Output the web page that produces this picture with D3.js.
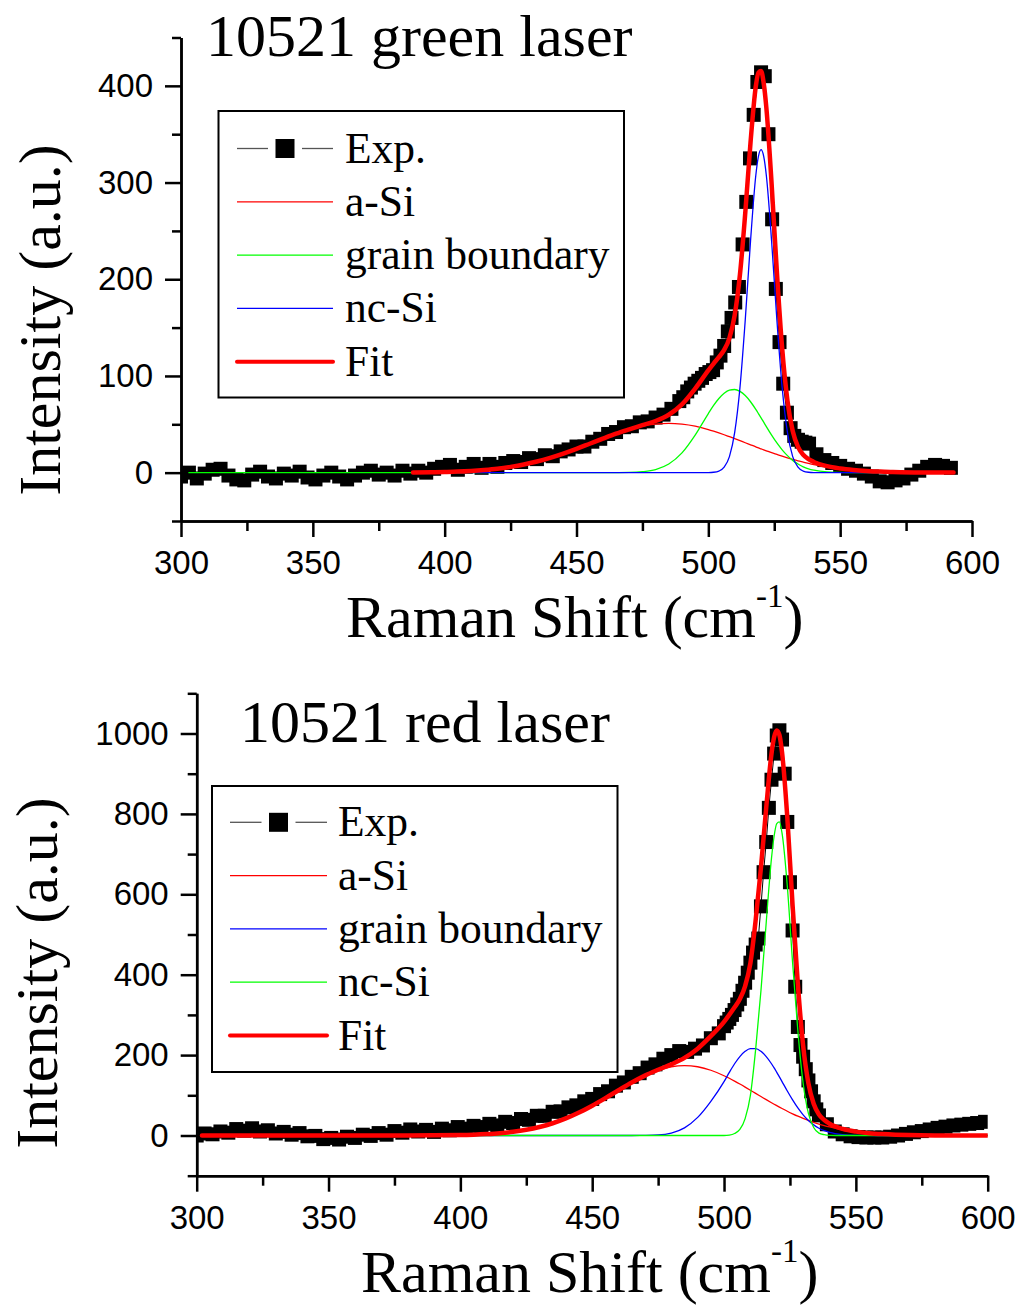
<!DOCTYPE html>
<html>
<head>
<meta charset="utf-8">
<script src="https://cdn.jsdelivr.net/npm/d3@7"></script>
<style>
  body { margin: 0; background: #fff; }
  svg { display: block; }
  .axis path, .axis line { stroke: #000; stroke-width: 2.5; }
  .axis text { font-family: "Liberation Sans", Arial, sans-serif; font-size: 33px; fill: #000; }
  .serif { font-family: "Liberation Serif", "Times New Roman", serif; fill: #000; }
</style>
</head>
<body>
<script>
// ---- shared ticks / labels
const xTicks = [300, 350, 400, 450, 500, 550, 600];
const xMinor = [325, 375, 425, 475, 525, 575];
const yTicksGreen = [0, 100, 200, 300, 400];
const yMinorGreen = [-50, 50, 150, 250, 350, 450];
const yTicksRed = [0, 200, 400, 600, 800, 1000];
const yMinorRed = [-100, 100, 300, 500, 700, 900, 1100];
const legendNames = ["Exp.", "a-Si", "grain boundary", "nc-Si", "Fit"];

// ---- 10521 green laser : measured spectrum
const greenExpX = [300, 303, 306, 309, 312, 315, 318, 321, 324, 327, 330, 333, 336, 339, 342, 345, 348, 351, 354, 357,
  360, 363, 366, 369, 372, 375, 378, 381, 384, 387, 390, 393, 396, 399, 402, 405, 408, 411, 414, 417,
  420, 423, 426, 429, 432, 435, 438, 441, 444, 447, 450, 453, 456, 459, 462, 465, 468, 471, 474, 477,
  480, 483, 486, 489,
  490.5, 492, 493.4, 494.8, 496.2, 497.6, 499, 500.4, 501.8, 503.2, 504.6, 506, 507.4, 508.8, 510.2, 511.6, 513, 514.4,
  515.8, 517.2, 518.6, 520, 521.4, 522.8, 524.2, 525.6, 527, 528.4, 529.8, 531.2, 532.6, 534, 535.4, 536.8, 538.2,
  541, 544, 547, 550, 553, 556, 559, 562, 565, 568, 571, 574, 577, 580, 583, 586, 589, 592];
const greenExpY = [-4, 0, -6, -1, 3, 4, -3, -7, -8, -2, 1, -4, -6, -1, -3, 1, -5, -7, -3, 0,
  -4, -7, -3, 0, 2, -2, 0, -3, 2, -1, 2, 0, 4, 6, 8, 3, 6, 9, 5, 9,
  6, 10, 12, 11, 15, 14, 18, 17, 22, 24, 27, 27, 32, 35, 40, 42, 47, 48, 52, 53,
  57, 60, 66, 74,
  78, 84, 88, 92, 95, 98, 102, 104, 106, 114, 121, 131, 146, 160, 176, 192, 236, 280,
  325, 370, 404, 414, 410, 350, 262, 190, 135, 92, 62, 46, 38, 34, 32, 31, 30,
  19, 13, 10, 7, 4, 2, -1, -4, -9, -10, -8, -6, -2, 2, 6, 8, 7, 5];

// ---- 10521 green laser : fitted components
const greenCompX = [303, 350, 388, 395, 400, 405, 410, 415, 420, 425, 430, 435, 440, 445, 450, 455, 460, 465, 470, 475,
  480, 485, 490, 495, 500, 502, 504, 506, 508, 510, 512, 514, 516, 518, 519, 520, 521, 522, 524, 526,
  528, 530, 532, 534, 536, 538, 540, 545, 550, 555, 560, 565, 570, 580, 593];
const greenASi = [null, null, 0.2, 0.4, 0.7, 1.1, 1.8, 2.8, 4.1, 6.0, 8.4, 11.5, 15.3, 19.7, 24.6, 29.9, 35.2, 40.2, 44.6, 48.1,
  50.2, 51.0, 50.2, 48.1, 44.6, 42.9, 41.1, 39.2, 37.2, 35.2, 33.1, 30.9, 28.8, 26.7, 25.6, 24.6, 23.6, 22.6, 20.6, 18.8,
  17.0, 15.3, 13.7, 12.2, 10.9, 9.6, 8.4, 6.0, 4.1, 2.8, 1.8, 1.1, 0.7, 0.2, 0.1];
const greenGB = [0, 0, 0, 0, 0, 0, 0, 0, 0, 0, 0, 0, 0, 0, 0, 0, 0, 0.05, 0.2, 1.0,
  3.2, 8.9, 20.4, 38.8, 61.1, 69.5, 76.7, 82.1, 85.3, 86.0, 84.0, 79.7, 73.3, 65.4, 61.1, 56.7, 52.2, 47.6, 38.8, 30.7,
  23.6, 17.6, 12.7, 8.9, 6.0, 4.0, 2.6, 0.7, 0.2, 0, 0, 0, 0, 0, 0];
const greenNcSi = [null, null, 0, 0, 0, 0, 0, 0, 0, 0, 0, 0, 0, 0, 0, 0, 0, 0, 0, 0,
  0, 0, 0, 0, 0.1, 0.4, 1.6, 5.6, 16.6, 41.6, 88, 157.8, 239.3, 307.3, 327, 334, 327, 307.3, 239.3, 157.8,
  88, 41.6, 16.6, 5.6, 1.6, 0.4, 0.1, 0, 0, 0, 0, 0, 0, 0, 0];
const greenFit = [null, null, 0.2, 0.4, 0.7, 1.1, 1.8, 2.8, 4.1, 6.0, 8.4, 11.5, 15.3, 19.7, 24.6, 29.9, 35.2, 40.3, 44.8, 49.1,
  53.4, 59.9, 70.6, 86.9, 105.8, 112.8, 119.4, 126.9, 139.1, 162.8, 205.1, 268.4, 341.4, 399.4, 413.7, 415.3, 402.8, 377.5, 298.7, 207.3,
  128.6, 74.5, 43.0, 26.7, 18.5, 14.0, 11.1, 6.7, 4.3, 2.8, 1.8, 1.1, 0.7, 0.2, 0.1];

// ---- 10521 red laser : measured spectrum
const redExpX = [300, 303, 306, 309, 312, 315, 318, 321, 324, 327, 330, 333, 336, 339, 342, 345, 348, 351, 354, 357,
  360, 363, 366, 369, 372, 375, 378, 381, 384, 387, 390, 393, 396, 399, 402, 405, 408, 411, 414, 417,
  420, 423, 426, 429, 432, 435, 438, 441, 444, 447, 450, 453, 456, 459, 462, 465, 468, 471, 474, 477,
  480, 483, 486, 489, 492, 495, 498,
  500, 501, 502, 503, 504, 505, 506, 507, 508, 509, 510, 511, 512, 513, 514, 515, 516, 517, 518, 519,
  520, 521, 522, 523, 524, 525, 526, 527, 528, 529, 530, 531, 532, 533, 534, 535, 536,
  539, 542, 545, 548, 551, 554, 557, 560, 563, 566, 569, 572, 575, 578, 581, 584, 587, 590, 593, 596, 599];
const redExpY = [0, 5, 3, 10, 7, 16, 12, 18, 10, 13, 5, 9, 2, 6, -2, -1, -9, -6, -10, -3,
  -6, 2, -1, 6, 2, 11, 7, 15, 10, 14, 9, 17, 13, 21, 17, 24, 21, 29, 25, 34,
  31, 41, 39, 49, 49, 59, 60, 70, 75, 85, 91, 103, 110, 124, 132, 146, 155, 169, 177, 191,
  200, 210, 208, 216, 224, 242, 254,
  272, 281, 290, 300, 312, 326, 340, 360, 380, 405, 430, 455, 475, 490, 570, 655, 730, 815, 885, 950,
  995, 1008, 985, 900, 780, 630, 510, 370, 270, 225, 196, 165, 137, 110, 85, 65, 50,
  28, 10, 3, -2, -4, -5, -5, -5, -3, 0, 4, 8, 11, 15, 19, 22, 25, 27, 29, 31, 34];

// ---- 10521 red laser : fitted components
const redCompX = [302, 350, 380, 400, 405, 410, 415, 420, 425, 430, 435, 440, 445, 450, 455, 460, 465, 470, 475, 480,
  485, 490, 495, 500, 502, 504, 506, 508, 510, 512, 514, 516, 518, 519, 520, 521, 522, 524, 526, 528,
  530, 532, 534, 536, 538, 540, 545, 550, 555, 560, 565, 570, 580, 590, 600];
const redASi = [0, 0, 0.1, 1.1, 2.0, 3.5, 5.7, 9.2, 14.2, 21.2, 30.5, 42.5, 57.1, 74.2, 93.0, 112.6, 131.7, 148.7, 162.3, 171.0,
  174.0, 171.0, 162.3, 148.7, 142.3, 135.3, 128.0, 120.4, 112.6, 104.7, 96.9, 89.1, 81.5, 77.8, 74.2, 70.6, 67.1, 60.3, 54.0, 48.0,
  42.5, 37.4, 32.7, 28.4, 24.6, 21.2, 14.2, 9.2, 5.7, 3.5, 2.0, 1.1, 0.3, 0.1, 0];
const redGB = [0, 0, 0, 0, 0, 0, 0, 0, 0, 0, 0, 0, 0, 0, 0, 0, 0.05, 0.3, 1.2, 6,
  19, 45, 85, 134, 157, 178.5, 196.4, 209.4, 216.1, 216.1, 209.4, 196.4, 178.5, 168.2, 157.1, 145.7, 134, 110.7, 88.6, 68.6,
  51.5, 37.5, 26.4, 18, 11.9, 7.6, 2.2, 0.5, 0.1, 0, 0, 0, 0, 0, 0];
const redNcSi = [0, 0, 0, 0, 0, 0, 0, 0, 0, 0, 0, 0, 0, 0, 0, 0, 0, 0, 0, 0,
  0, 0, 0, 0, 1, 5, 15, 42, 100, 215, 360, 530, 690, 745, 776, 780, 752, 620, 430, 260,
  130, 55, 20, 6, 2, 0.5, 0, 0, 0, 0, 0, 0, 0, 0, 0];
const redFit = [0, 0, 0.1, 1.1, 2.0, 3.5, 5.7, 9.2, 14.2, 21.2, 30.5, 42.5, 57.1, 74.2, 93.0, 112.6, 131.8, 149.0, 163.5, 177.0,
  193.0, 216.0, 247.3, 282.7, 300.3, 318.8, 339.4, 371.8, 428.7, 535.8, 666.3, 815.5, 950, 991, 1007.3, 996.3, 953.1, 791, 572.6, 376.6,
  224, 129.9, 79.1, 52.4, 38.5, 29.3, 16.4, 9.7, 5.8, 3.5, 2.0, 1.1, 0.3, 0.1, 0];

const svg = d3.select("body").append("svg")
  .attr("width", 1022)
  .attr("height", 1309);

const panels = [
  {
    id: "green", left: 181, right: 972, top: 37.5, bottom: 521, yDomain: [-50, 450],
    yTicks: yTicksGreen, yMinor: yMinorGreen,
    title: "10521 green laser", titleX: 206, titleY: 56,
    yLabelX: 60, yLabelY: 320, xLabelX: 346, xLabelY: 637,
    box: [218.5, 111, 405.5, 286.5], legY: 148.5, legX0: 237, legX1: 333, legTextX: 345,
    expX: greenExpX, expY: greenExpY, compX: greenCompX,
    comps: [
      { y: greenASi, color: "#ff0000", w: 1.3 },
      { y: greenGB, color: "#00ff00", w: 1.3 },
      { y: greenNcSi, color: "#0000ff", w: 1.3 },
      { y: greenFit, color: "#ff0000", w: 4.5 }
    ]
  },
  {
    id: "red", left: 196.7, right: 987.7, top: 693.3, bottom: 1175.7, yDomain: [-100, 1100],
    yTicks: yTicksRed, yMinor: yMinorRed,
    title: "10521 red laser", titleX: 240, titleY: 741.5,
    yLabelX: 57, yLabelY: 973, xLabelX: 361, xLabelY: 1292,
    box: [212, 786, 405.5, 286], legY: 822.3, legX0: 230, legX1: 327, legTextX: 338,
    expX: redExpX, expY: redExpY, compX: redCompX,
    comps: [
      { y: redASi, color: "#ff0000", w: 1.3 },
      { y: redGB, color: "#0000ff", w: 1.3 },
      { y: redNcSi, color: "#00ff00", w: 1.3 },
      { y: redFit, color: "#ff0000", w: 4.5 }
    ]
  }
];

panels.forEach(function (p) {
  const x = d3.scaleLinear().domain([300, 600]).range([p.left, p.right]);
  const y = d3.scaleLinear().domain(p.yDomain).range([p.bottom, p.top]);

  // clip marks to the plot frame
  svg.append("clipPath").attr("id", "clip-" + p.id)
    .append("rect")
    .attr("x", p.left).attr("y", p.top)
    .attr("width", p.right - p.left).attr("height", p.bottom - p.top);

  const plot = svg.append("g").attr("clip-path", "url(#clip-" + p.id + ")");

  const exp = p.expX.map((d, i) => ({ x: d, y: p.expY[i] }));

  // measured points
  plot.append("path")
    .datum(exp)
    .attr("fill", "none")
    .attr("stroke", "#000")
    .attr("stroke-width", 1)
    .attr("d", d3.line().x(d => x(d.x)).y(d => y(d.y)));

  plot.selectAll("rect.exp")
    .data(exp)
    .enter()
    .append("rect")
    .attr("class", "exp")
    .attr("x", d => x(d.x) - 7)
    .attr("y", d => y(d.y) - 7)
    .attr("width", 14)
    .attr("height", 14)
    .attr("fill", "#000");

  // fitted curves
  const line = d3.line()
    .defined(d => d.y !== null)
    .x(d => x(d.x))
    .y(d => y(d.y))
    .curve(d3.curveMonotoneX);

  p.comps.forEach(function (c) {
    plot.append("path")
      .datum(p.compX.map((d, i) => ({ x: d, y: c.y[i] })))
      .attr("fill", "none")
      .attr("stroke", c.color)
      .attr("stroke-width", c.w)
      .attr("stroke-linejoin", "round")
      .attr("stroke-linecap", "round")
      .attr("d", line);
  });

  // axes
  svg.append("g").attr("class", "axis")
    .attr("transform", "translate(0," + p.bottom + ")")
    .call(d3.axisBottom(x).tickValues(xTicks).tickSize(16).tickSizeOuter(0).tickPadding(14).tickFormat(d3.format("d")));
  svg.append("g").attr("class", "axis")
    .attr("transform", "translate(0," + p.bottom + ")")
    .call(d3.axisBottom(x).tickValues(xMinor).tickSize(10).tickSizeOuter(0).tickFormat(""));
  svg.append("g").attr("class", "axis")
    .attr("transform", "translate(" + p.left + ",0)")
    .call(d3.axisLeft(y).tickValues(p.yTicks).tickSize(16).tickSizeOuter(0).tickPadding(12).tickFormat(d3.format("d")));
  svg.append("g").attr("class", "axis")
    .attr("transform", "translate(" + p.left + ",0)")
    .call(d3.axisLeft(y).tickValues(p.yMinor).tickSize(9).tickSizeOuter(0).tickFormat(""));

  // legend
  svg.append("rect")
    .attr("x", p.box[0]).attr("y", p.box[1])
    .attr("width", p.box[2]).attr("height", p.box[3])
    .attr("fill", "#fff")
    .attr("stroke", "#000")
    .attr("stroke-width", 2);

  const legColors = [null].concat(p.comps.map(c => c.color));
  const legWidths = [null].concat(p.comps.map(c => c.w));
  legendNames.forEach(function (name, i) {
    const ly = p.legY + i * 53.3;
    if (i === 0) {
      const mid = (p.legX0 + p.legX1) / 2;
      svg.append("line").attr("x1", p.legX0).attr("x2", mid - 17).attr("y1", ly).attr("y2", ly)
        .attr("stroke", "#555").attr("stroke-width", 1.3);
      svg.append("line").attr("x1", mid + 17).attr("x2", p.legX1).attr("y1", ly).attr("y2", ly)
        .attr("stroke", "#555").attr("stroke-width", 1.3);
      svg.append("rect").attr("x", mid - 9.5).attr("y", ly - 9.5).attr("width", 19).attr("height", 19)
        .attr("fill", "#000");
    } else {
      svg.append("line").attr("x1", p.legX0).attr("x2", p.legX1).attr("y1", ly).attr("y2", ly)
        .attr("stroke", legColors[i])
        .attr("stroke-width", legWidths[i] > 2 ? 4 : 1.3)
        .attr("stroke-linecap", legWidths[i] > 2 ? "round" : "butt");
    }
    svg.append("text")
      .attr("class", "serif")
      .attr("x", p.legTextX)
      .attr("y", ly + 14)
      .style("font-size", "43.5px")
      .text(name);
  });

  // title
  svg.append("text")
    .attr("class", "serif")
    .attr("x", p.titleX)
    .attr("y", p.titleY)
    .style("font-size", "60px")
    .text(p.title);

  // y label
  svg.append("text")
    .attr("class", "serif")
    .attr("transform", "translate(" + p.yLabelX + "," + p.yLabelY + ") rotate(-90)")
    .attr("text-anchor", "middle")
    .style("font-size", "60px")
    .text("Intensity (a.u.)");

  // x label with superscript
  const xl = svg.append("text")
    .attr("class", "serif")
    .attr("x", p.xLabelX)
    .attr("y", p.xLabelY)
    .style("font-size", "60px");
  xl.append("tspan").text("Raman Shift (cm");
  xl.append("tspan").attr("dy", -30).style("font-size", "33px").text("-1");
  xl.append("tspan").attr("dy", 30).text(")");
});
</script>
</body>
</html>
